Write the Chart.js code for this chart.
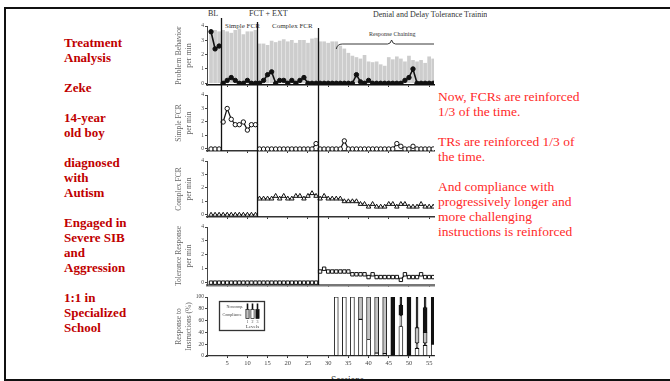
<!DOCTYPE html>
<html>
<head>
<meta charset="utf-8">
<script src="https://cdn.jsdelivr.net/npm/chart.js@4.4.0/dist/chart.umd.min.js"></script>
<style>
  body { margin: 0; width: 670px; height: 381px; overflow: hidden; background: #fff; position: relative; font-family: "Liberation Serif", serif; }
  .frame { position: absolute; left: 4px; top: 7px; width: 720px; height: 374px; border: 2.5px solid #111; box-sizing: border-box; z-index: 5; pointer-events: none; }
  .left { position: absolute; left: 64px; top: 35px; color: #c00000; font-weight: bold; font-size: 13px; line-height: 15px; }
  .right { position: absolute; left: 438px; top: 89px; color: #ff2a2a; font-size: 13.5px; line-height: 15px; }
  .left p, .right p { margin: 0 0 15px 0; }
  canvas { position: absolute; }
  .lbl { position: absolute; font-size: 8px; line-height: 10px; color: #333; white-space: nowrap; }
</style>
</head>
<body>
<div class="frame"></div>

<div class="left">
  <p>Treatment<br>Analysis</p>
  <p>Zeke</p>
  <p>14-year<br>old boy</p>
  <p>diagnosed<br>with<br>Autism</p>
  <p>Engaged in<br>Severe SIB<br>and<br>Aggression</p>
  <p>1:1 in<br>Specialized<br>School</p>
</div>

<div class="right">
  <p>Now, FCRs are reinforced<br>1/3 of the time.</p>
  <p>TRs are reinforced 1/3 of<br>the time.</p>
  <p>And compliance with<br>progressively longer and<br>more challenging<br>instructions is reinforced</p>
</div>

<div class="lbl" style="left:208px;top:9px;">BL</div>
<div class="lbl" style="left:249px;top:9px;">FCT + EXT</div>
<div class="lbl" style="left:373px;top:10px;width:114px;overflow:hidden;">Denial and Delay Tolerance Training</div>
<div class="lbl" style="left:225px;top:21px;font-size:7px;">Simple FCR</div>
<div class="lbl" style="left:272px;top:21px;font-size:7px;">Complex FCR</div>
<div class="lbl" style="left:369px;top:29px;font-size:6px;">Response Chaining</div>
<div class="lbl" style="left:331px;top:375px;font-size:9.5px;">Sessions</div>

<canvas id="p1" width="270" height="76" style="left:170px;top:14px;"></canvas>
<canvas id="p2" width="270" height="66" style="left:170px;top:90px;"></canvas>
<canvas id="p3" width="270" height="66" style="left:170px;top:156px;"></canvas>
<canvas id="p4" width="270" height="68" style="left:170px;top:222px;"></canvas>
<canvas id="p5" width="270" height="90" style="left:170px;top:290px;"></canvas>

<script>
// sessions 1..56
const sessions = Array.from({ length: 56 }, (_, i) => i + 1);
const sessionTicks = [5, 10, 15, 20, 25, 30, 35, 40, 45, 50, 55];
const phaseChanges = [3.5, 12.5, 27.5];

// problem behavior: gray bars and rate per min
const problemBars = [
  3.7, 3.7, 3.6,
  3.7, 3.6, 3.5, 3.7, 3.8, 3.4, 3.6, 3.6, 3.7,
  2.75, 2.75, 2.65, 2.95, 2.85, 2.95, 3.05, 2.9, 3.0, 2.8, 3.0, 3.0, 2.8, 3.1, 3.15,
  2.9, 2.9, 2.8, 2.9, 2.9, 2.6, 2.4, 2.1, 1.9, 1.8, 1.7, 1.95, 1.5, 1.45, 1.5, 1.3, 1.2,
  1.8, 1.65, 1.85, 1.7, 1.5, 1.9, 1.6, 1.5, 1.6, 1.4, 1.85, 1.7
];
const problemRate = [
  3.6, 2.4, 2.6,
  0, 0.2, 0.4, 0.2, 0, 0, 0.2, 0, 0,
  0, 0.2, 0.6, 0.8, 0, 0.2, 0.2, 0, 0.2, 0, 0.2, 0.4, 0, 0, 0,
  0, 0, 0, 0, 0, 0, 0, 0, 0, 0.6, 0.1, 0, 0.2, 0, 0, 0,
  0, 0, 0, 0, 0, 0.2, 0.4, 1.0, 0, 0, 0, 0, 0
];
const simpleFcr = [
  0, 0, 0,
  2.0, 3.0, 2.2, 1.8, 1.8, 2.0, 1.4, 1.8, 1.8,
  0, 0, 0, 0, 0, 0, 0, 0, 0, 0, 0, 0, 0, 0, 0.4,
  0, 0, 0, 0, 0, 0, 0.6, 0, 0, 0, 0, 0, 0, 0, 0, 0,
  0, 0, 0, 0.4, 0.2, 0, 0, 0.2, 0, 0, 0, 0, 0, 0
].slice(0, 56);
const complexFcr = [
  0, 0, 0,
  0, 0, 0, 0, 0, 0, 0, 0, 0,
  1.2, 1.2, 1.2, 1.2, 1.4, 1.2, 1.4, 1.2, 1.2, 1.4, 1.4, 1.2, 1.4, 1.6, 1.4,
  1.2, 1.4, 1.2, 1.2, 1.2, 1.2, 1.0, 1.0, 1.0, 1.0, 0.8, 0.8, 0.6, 0.8,
  0.6, 0.6, 0.6, 0.8, 0.8, 0.6, 0.8, 0.8, 0.6, 0.6, 0.6, 0.8, 0.6, 0.6, 0.6
];
const toleranceResp = [
  0, 0, 0,
  0, 0, 0, 0, 0, 0, 0, 0, 0,
  0, 0, 0, 0, 0, 0, 0, 0, 0, 0, 0, 0, 0, 0, 0,
  0.8, 1.0, 0.8, 0.8, 0.8, 0.8, 0.8, 0.8, 0.6, 0.6, 0.6, 0.6, 0.4, 0.6,
  0.4, 0.4, 0.4, 0.4, 0.4, 0.4, 0.2, 0.6, 0.4, 0.4, 0.4, 0.6, 0.4, 0.4, 0.4
];

// response to instructions (%), floating segments [low, high]
const respSessions = [32, 34, 36, 38, 40, 42, 44, 46, 48, 50, 52, 54, 56];
const compLevel1 = [null, null, null, [62, 100], [28, 100], [5, 100], [4, 100], null, null, null, [22, 48], [22, 40], null];
const compLevel2 = [[0, 100], [0, 100], [0, 100], [0, 62], [0, 28], [0, 5], [0, 4], null, [0, 50], null, [0, 13], [0, 18], [0, 20]];
const compLevel3 = [null, null, null, null, null, null, null, [0, 100], [69, 86], [0, 100], null, [40, 82], [20, 100]];
const noncompLevel1 = [null, null, null, null, null, null, null, null, null, null, [13, 22], [18, 22], null];
const noncompLevel2 = [null, null, null, null, null, null, null, null, [50, 69], null, null, null, null];
const noncompLevel3 = [null, null, null, null, null, null, null, null, [86, 100], null, [48, 100], [82, 100], null];

const FONT = 'Liberation Serif';

function splitPhases(values, breaks) {
  const parts = [];
  let cur = [];
  sessions.forEach((s, i) => {
    if (cur.length && breaks.some(b => b < s && b > sessions[i - 1])) {
      parts.push(cur);
      cur = [];
    }
    cur.push({ x: s, y: values[i] });
  });
  parts.push(cur);
  return parts;
}

function pairs(xs, segs) {
  return xs.map((x, i) => segs[i] ? { x: x, y: segs[i] } : null).filter(Boolean);
}

// vertical phase lines: [session, from y (canvas), runs on to canvas bottom?]
const phaseLinePlugin = {
  id: 'phaseLines',
  afterDatasetsDraw(chart, args, opts) {
    const ctx = chart.ctx;
    const xs = chart.scales.x;
    ctx.save();
    ctx.strokeStyle = '#111';
    ctx.lineWidth = 1.3;
    (opts.lines || []).forEach(l => {
      const px = Math.round(xs.getPixelForValue(l[0])) + 0.5;
      ctx.beginPath();
      ctx.moveTo(px, l[1]);
      ctx.lineTo(px, l[2] ? chart.height : chart.chartArea.bottom);
      ctx.stroke();
    });
    ctx.restore();
  }
};

function yScale(min, max, step, title, titleSize) {
  return {
    min: min, max: max,
    border: { color: '#444', width: 1 },
    grid: { drawOnChartArea: false, tickLength: 2, color: '#444' },
    ticks: { stepSize: step, includeBounds: false, font: { family: FONT, size: 5.5 }, color: '#444', padding: 1 },
    title: {
      display: true, text: title, color: '#666',
      font: { family: FONT, size: titleSize, lineHeight: 10 / titleSize },
      padding: { top: 4, bottom: 0 }
    },
    afterFit: s => { s.width = 37; }
  };
}

function xScale(showLabels, h, axisColor, axisWidth) {
  return {
    type: 'linear', min: 0, max: 56.2, offset: false,
    border: { color: axisColor, width: axisWidth },
    grid: { drawOnChartArea: false, tickLength: 2, color: '#333', offset: false },
    ticks: { display: showLabels, autoSkip: false, font: { family: FONT, size: 6.5 }, color: '#444', padding: 1, maxRotation: 0 },
    afterBuildTicks: s => { s.ticks = sessionTicks.map(v => ({ value: v })); },
    afterFit: s => { s.height = h; }
  };
}

function baseOptions(scales, padTop, plugOpts) {
  return {
    responsive: false,
    animation: false,
    layout: { padding: { top: padTop, right: 6, left: 0, bottom: 0 } },
    plugins: { legend: { display: false }, tooltip: { enabled: false }, phaseLines: plugOpts },
    scales: scales
  };
}

function lineSets(values, breaks, style) {
  return splitPhases(values, breaks).map(seg => Object.assign({
    type: 'line', data: seg, borderColor: '#111', borderWidth: 1.2,
    pointBorderColor: '#111', pointBorderWidth: 1, order: 0
  }, style));
}

// panel 1: problem behavior
const braceFrom = 32, braceMid = 45.7;
new Chart(document.getElementById('p1'), {
  type: 'bar',
  data: {
    datasets: lineSets(problemRate, phaseChanges, {
      borderWidth: 1.6, pointRadius: 2.2, pointBackgroundColor: '#111'
    }).concat([{
      type: 'bar', data: sessions.map((s, i) => ({ x: s, y: problemBars[i] })),
      backgroundColor: '#cdcdcd', barThickness: 3, order: 2
    }])
  },
  options: baseOptions({
    x: xScale(false, 4, '#111', 1.6),
    y: yScale(-0.12, 4, 1, ['Problem Behavior', 'per min'], 8)
  }, 12, { lines: [[3.5, 4, true], [12.5, 8, true], [27.5, 14, true]] }),
  plugins: [phaseLinePlugin, {
    id: 'brace',
    afterDatasetsDraw(chart) {
      const ctx = chart.ctx, xs = chart.scales.x;
      const x1 = xs.getPixelForValue(braceFrom), xm = xs.getPixelForValue(braceMid), x2 = chart.chartArea.right;
      const y = 30;
      ctx.save();
      ctx.strokeStyle = '#222';
      ctx.lineWidth = 0.9;
      ctx.beginPath();
      ctx.moveTo(x1, y + 5);
      ctx.quadraticCurveTo(x1 + 1, y, x1 + 6, y);
      ctx.lineTo(xm - 4, y);
      ctx.quadraticCurveTo(xm - 1, y, xm, y - 4);
      ctx.quadraticCurveTo(xm + 1, y, xm + 4, y);
      ctx.lineTo(x2, y);
      ctx.stroke();
      ctx.restore();
    }
  }]
});

// panel 2: simple FCR
new Chart(document.getElementById('p2'), {
  type: 'line',
  data: { datasets: lineSets(simpleFcr, phaseChanges, { pointRadius: 2.2, pointBackgroundColor: '#fff' }) },
  options: baseOptions({
    x: xScale(false, 4, '#333', 1.4),
    y: yScale(-0.15, 4, 1, ['Simple FCR', 'per min'], 7.5)
  }, 4, { lines: [[3.5, 0, false], [12.5, 0, true], [27.5, 0, true]] }),
  plugins: [phaseLinePlugin]
});

// panel 3: complex FCR
new Chart(document.getElementById('p3'), {
  type: 'line',
  data: { datasets: lineSets(complexFcr, [12.5, 27.5], { pointStyle: 'triangle', pointRadius: 2.6, pointBackgroundColor: '#fff' }) },
  options: baseOptions({
    x: xScale(false, 4, '#333', 1.4),
    y: yScale(-0.16, 4, 1, ['Complex FCR', 'per min'], 7.5)
  }, 3, { lines: [[12.5, 0, false], [27.5, 0, true]] }),
  plugins: [phaseLinePlugin]
});

// panel 4: tolerance response
new Chart(document.getElementById('p4'), {
  type: 'line',
  data: { datasets: lineSets(toleranceResp, [27.5], { pointStyle: 'rect', pointRadius: 2.4, pointBackgroundColor: '#fff' }) },
  options: baseOptions({
    x: xScale(false, 4, '#777', 2.4),
    y: yScale(-0.17, 4, 1, ['Tolerance Response', 'per min'], 7.5)
  }, 5, { lines: [[27.5, 0, false]] }),
  plugins: [phaseLinePlugin]
});

// panel 5: response to instructions
const levelFill = ['#c4c4c4', '#ffffff', '#111111'];
function segSet(segs, fill, thick) {
  return {
    data: pairs(respSessions, segs), backgroundColor: fill, borderColor: '#111',
    borderWidth: 0.9, borderSkipped: false, barThickness: thick, grouped: false
  };
}
new Chart(document.getElementById('p5'), {
  type: 'bar',
  data: {
    datasets: [
      segSet(compLevel1, levelFill[0], 4),
      segSet(compLevel2, levelFill[1], 4),
      segSet(compLevel3, levelFill[2], 4),
      segSet(noncompLevel1, levelFill[0], 2),
      segSet(noncompLevel2, levelFill[1], 2),
      segSet(noncompLevel3, levelFill[2], 2)
    ]
  },
  options: baseOptions({
    x: xScale(true, 24, '#333', 1.2),
    y: yScale(0, 100, 20, ['Response to', 'Instructions (%)'], 7.5)
  }, 7, { lines: [] }),
  plugins: [{
    id: 'levelsKey',
    afterDatasetsDraw(chart) {
      const ctx = chart.ctx, a = chart.chartArea;
      const bx = a.left + 12.5, by = a.top + 4.5;
      ctx.save();
      ctx.fillStyle = '#fff';
      ctx.fillRect(bx, by, 45, 29);
      ctx.strokeStyle = '#333';
      ctx.lineWidth = 1.3;
      ctx.strokeRect(bx, by, 45, 29);
      ctx.fillStyle = '#444';
      ctx.font = '4px ' + FONT;
      ctx.textBaseline = 'middle';
      ctx.fillText('Noncomp.', bx + 7, by + 5);
      ctx.fillText('Compliance', bx + 3, by + 13);
      ctx.lineWidth = 0.7;
      ctx.strokeStyle = '#111';
      levelFill.forEach((f, i) => {
        const cx = bx + 28 + i * 5;
        ctx.fillStyle = '#111';
        ctx.fillRect(cx - 0.8, by + 2, 1.6, 6);
        ctx.fillStyle = f;
        ctx.fillRect(cx - 1.6, by + 8, 3.2, 9);
        ctx.strokeRect(cx - 1.6, by + 8, 3.2, 9);
        ctx.fillStyle = '#444';
        ctx.textAlign = 'center';
        ctx.fillText(String(i + 1), cx, by + 20);
      });
      ctx.font = '5px ' + FONT;
      ctx.fillText('Levels', bx + 33, by + 25);
      ctx.restore();
    }
  }]
});
</script>
</body>
</html>
